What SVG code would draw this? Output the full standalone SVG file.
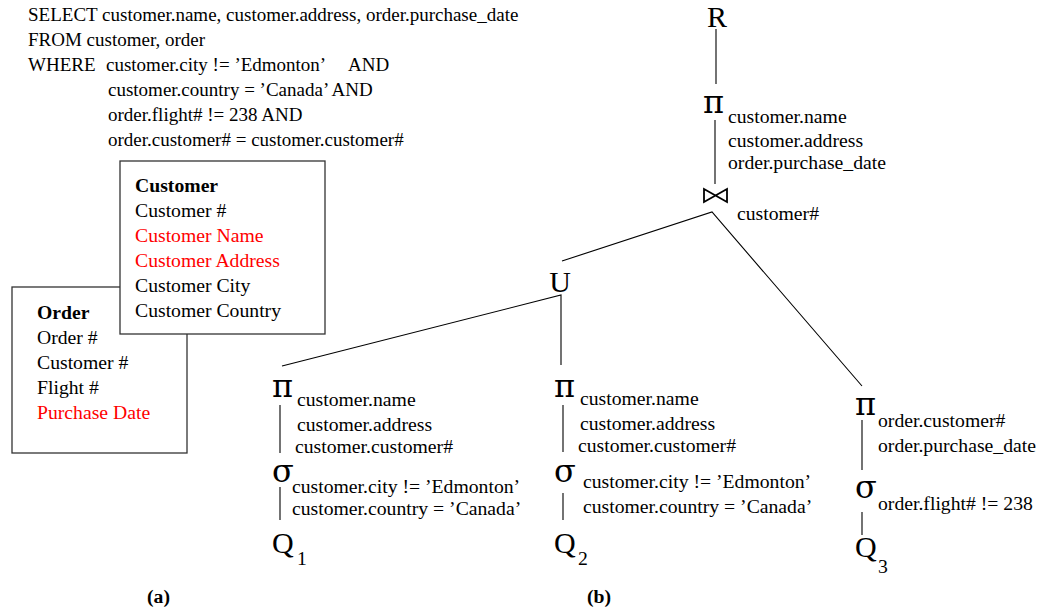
<svg xmlns="http://www.w3.org/2000/svg" width="1043" height="610" viewBox="0 0 1043 610">
<style>
text{font-family:"Liberation Serif","Times New Roman",serif;fill:#000}
.t{font-size:19.7px}
.s{font-size:19px}
.b{font-weight:bold}
.red{fill:#ff0000}
.g{font-family:"DejaVu Serif",serif;font-size:32px}
.cap{font-size:30px}
.box{fill:#fff;stroke:#333;stroke-width:1.3}
.e{stroke:#000;stroke-width:1.1;fill:none}
.bow{stroke:#000;stroke-width:1.8;fill:none;stroke-linejoin:miter}
</style>
<rect width="1043" height="610" fill="#fff"/>
<g id="sql" class="s">
<text x="28" y="21">SELECT customer.name, customer.address, order.purchase_date</text>
<text x="28" y="46">FROM customer, order</text>
<text x="28" y="71">WHERE <tspan x="106">customer.city != ’Edmonton’</tspan><tspan x="348">AND</tspan></text>
<text x="108" y="96">customer.country = ’Canada’ AND</text>
<text x="108" y="121">order.flight# != 238 AND</text>
<text x="108" y="146">order.customer# = customer.customer#</text>
</g>
<g id="order-table">
<rect class="box" x="12" y="287" width="175" height="166"/>
<text class="t b" x="37" y="319">Order</text>
<text class="t" x="37" y="344">Order #</text>
<text class="t" x="37" y="369">Customer #</text>
<text class="t" x="37" y="394">Flight #</text>
<text class="t red" x="37" y="419">Purchase Date</text>
</g>
<g id="customer-table">
<rect class="box" x="120" y="161" width="205" height="173"/>
<text class="t b" x="135" y="192">Customer</text>
<text class="t" x="135" y="217">Customer #</text>
<text class="t red" x="135" y="242">Customer Name</text>
<text class="t red" x="135" y="267">Customer Address</text>
<text class="t" x="135" y="292">Customer City</text>
<text class="t" x="135" y="317">Customer Country</text>
</g>
<g id="connectors" class="e">
<line x1="716" y1="29" x2="716" y2="84"/>
<line x1="715" y1="120" x2="715" y2="184"/>
<polyline points="562,261 712,212 862,386"/>
<polyline points="282,366 561,295 561,365"/>
<line x1="280" y1="405" x2="280" y2="453"/>
<line x1="280" y1="487" x2="280" y2="520"/>
<line x1="563" y1="405" x2="563" y2="452"/>
<line x1="563" y1="493" x2="563" y2="520"/>
<line x1="862" y1="420" x2="862" y2="470"/>
<line x1="862" y1="512" x2="862" y2="535"/>
</g>
<g id="R"><text class="cap" x="717" y="27" text-anchor="middle">R</text></g>
<g id="proj-top">
<text class="g" x="703" y="113">π</text>
<text class="t" x="728" y="123">customer.name</text>
<text class="t" x="728" y="147">customer.address</text>
<text class="t" x="728" y="169">order.purchase_date</text>
</g>
<g id="join">
<path class="bow" d="M704,189 L727,202 L727,189 L704,202 Z"/>
<text class="t" x="737" y="220">customer#</text>
</g>
<g id="union"><text class="cap" x="560" y="292" text-anchor="middle">U</text></g>
<g id="proj-1">
<text class="g" x="272" y="397">π</text>
<text class="t" x="297" y="406">customer.name</text>
<text class="t" x="297" y="431">customer.address</text>
<text class="t" x="295" y="453">customer.customer#</text>
</g>
<g id="sel-1">
<text class="g" x="272" y="482">σ</text>
<text class="t" x="292" y="493">customer.city != ’Edmonton’</text>
<text class="t" x="292" y="515">customer.country = ’Canada’</text>
</g>
<g id="Q1"><text class="cap" x="272" y="553">Q</text><text class="t" x="297" y="565">1</text></g>
<g id="proj-2">
<text class="g" x="554" y="397">π</text>
<text class="t" x="580" y="405">customer.name</text>
<text class="t" x="580" y="430">customer.address</text>
<text class="t" x="578" y="452">customer.customer#</text>
</g>
<g id="sel-2">
<text class="g" x="554" y="482">σ</text>
<text class="t" x="583" y="488">customer.city != ’Edmonton’</text>
<text class="t" x="583" y="513">customer.country = ’Canada’</text>
</g>
<g id="Q2"><text class="cap" x="554" y="553">Q</text><text class="t" x="578" y="565">2</text></g>
<g id="proj-3">
<text class="g" x="855" y="415">π</text>
<text class="t" x="878" y="427">order.customer#</text>
<text class="t" x="878" y="452">order.purchase_date</text>
</g>
<g id="sel-3">
<text class="g" x="855" y="498">σ</text>
<text class="t" x="878" y="510">order.flight# != 238</text>
</g>
<g id="Q3"><text class="cap" x="855" y="557">Q</text><text class="t" x="878" y="573">3</text></g>
<g id="captions">
<text class="t b" x="147" y="603">(a)</text>
<text class="t b" x="587" y="603">(b)</text>
</g>
</svg>
